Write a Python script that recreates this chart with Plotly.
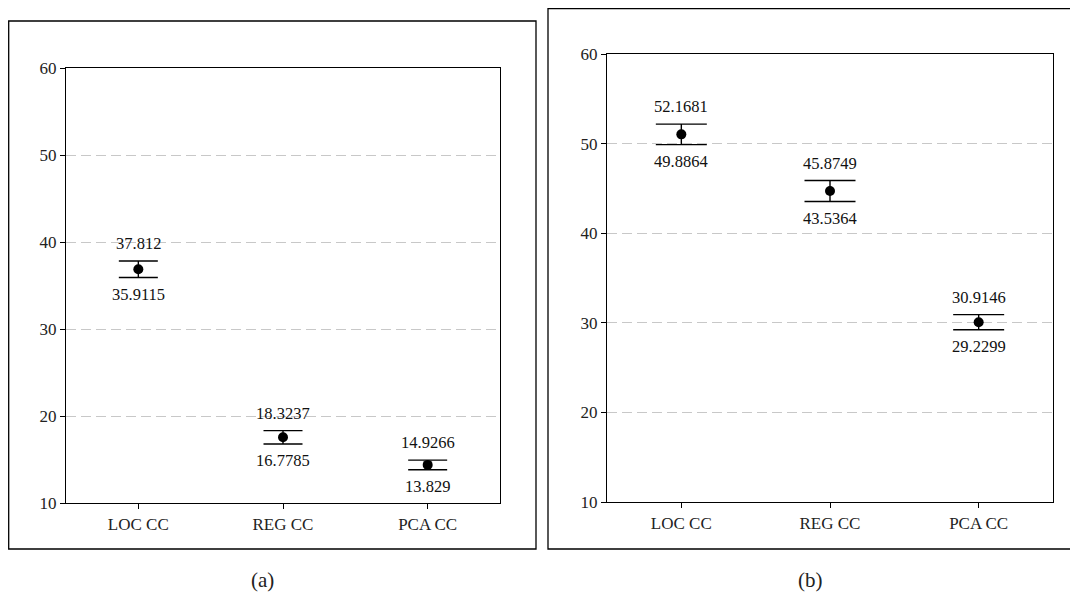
import plotly.graph_objects as go

categories = ["LOC CC", "REG CC", "PCA CC"]

# panel (a)
a_mean = [36.86, 17.55, 14.38]
a_upper = [37.812, 18.3237, 14.9266]
a_lower = [35.9115, 16.7785, 13.829]
a_upper_txt = ["37.812", "18.3237", "14.9266"]
a_lower_txt = ["35.9115", "16.7785", "13.829"]

# panel (b)
b_mean = [51.03, 44.71, 30.07]
b_upper = [52.1681, 45.8749, 30.9146]
b_lower = [49.8864, 43.5364, 29.2299]
b_upper_txt = ["52.1681", "45.8749", "30.9146"]
b_lower_txt = ["49.8864", "43.5364", "29.2299"]

y_ticks = [10, 20, 30, 40, 50, 60]

W, H = 1078, 598
OX, OY = 8, 8  # page body offset
FONT = "Liberation Serif"

fig = go.Figure()

def add_panel(mean, upper, lower, up_txt, lo_txt, xa, ya, capw):
    fig.add_trace(go.Scatter(
        x=categories, y=mean, mode="markers",
        marker=dict(color="black", size=10),
        error_y=dict(type="data", symmetric=False,
                     array=[u - m for u, m in zip(upper, mean)],
                     arrayminus=[m - l for m, l in zip(mean, lower)],
                     color="black", thickness=1.4, width=capw),
        xaxis=xa, yaxis=ya, showlegend=False, hoverinfo="skip"))
    for c, u, l, ut, lt in zip(categories, upper, lower, up_txt, lo_txt):
        fig.add_annotation(x=c, y=u, xref=xa, yref=ya, text=ut, showarrow=False,
                           xanchor="center", yanchor="bottom", yshift=6,
                           font=dict(family=FONT, size=16.5, color="#111"))
        fig.add_annotation(x=c, y=l, xref=xa, yref=ya, text=lt, showarrow=False,
                           xanchor="center", yanchor="top", yshift=-5,
                           font=dict(family=FONT, size=16.5, color="#111"))

add_panel(a_mean, a_upper, a_lower, a_upper_txt, a_lower_txt, "x", "y", 19.5)
add_panel(b_mean, b_upper, b_lower, b_upper_txt, b_lower_txt, "x2", "y2", 25.5)

def px_x(p):
    return (p - OX) / W

def px_y(p):
    return 1 - (p - OY) / H

axis_common = dict(showline=True, linecolor="black", linewidth=1.3, mirror=True,
                   ticks="outside", ticklen=5, tickcolor="black",
                   tickfont=dict(family=FONT, size=17, color="#222"))

xcommon = dict(axis_common, type="category", range=[-0.5, 2.5], showgrid=False,
               categoryorder="array", categoryarray=categories, zeroline=False)
ycommon = dict(axis_common, range=[10, 60], tickvals=y_ticks, showgrid=True,
               gridcolor="#c8c8c8", griddash="10px,5px", gridwidth=1.2, zeroline=False)

fig.update_layout(
    width=W, height=H,
    margin=dict(l=0, r=0, t=0, b=0, autoexpand=False),
    paper_bgcolor="white", plot_bgcolor="white",
    xaxis=dict(xcommon, domain=[px_x(66), px_x(500)], anchor="y"),
    yaxis=dict(ycommon, domain=[px_y(503), px_y(68)], anchor="x"),
    xaxis2=dict(xcommon, domain=[px_x(607), px_x(1053)], anchor="y2"),
    yaxis2=dict(ycommon, domain=[px_y(502), px_y(54)], anchor="x2"),
)

# outer frames of the two sub-figures
fig.add_shape(type="rect", xref="paper", yref="paper",
              x0=px_x(8.7), x1=px_x(536), y0=px_y(549), y1=px_y(21),
              line=dict(color="black", width=1.3), fillcolor="rgba(0,0,0,0)", layer="below")
fig.add_shape(type="rect", xref="paper", yref="paper",
              x0=px_x(548), x1=px_x(1095), y0=px_y(549), y1=px_y(8.7),
              line=dict(color="black", width=1.3), fillcolor="rgba(0,0,0,0)", layer="below")

# captions
fig.add_annotation(x=px_x(262), y=px_y(580), xref="paper", yref="paper", text="(a)",
                   xanchor="center", yanchor="middle",
                   showarrow=False, font=dict(family=FONT, size=21, color="#222"))
fig.add_annotation(x=px_x(810), y=px_y(580), xref="paper", yref="paper", text="(b)",
                   xanchor="center", yanchor="middle",
                   showarrow=False, font=dict(family=FONT, size=21, color="#222"))

fig.write_html("out.html")
